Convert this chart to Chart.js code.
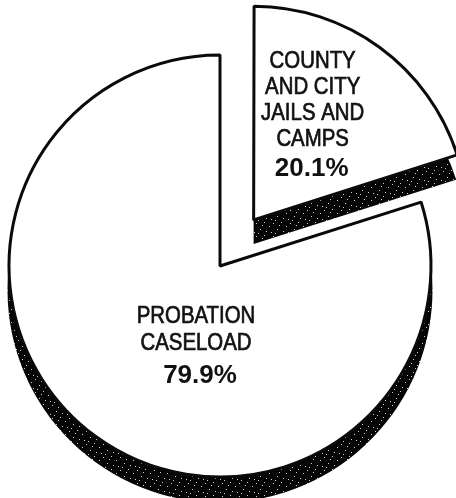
<!DOCTYPE html>
<html><head><meta charset="utf-8">
<script src="https://cdn.jsdelivr.net/npm/chart.js@4/dist/chart.umd.min.js"></script>
<style>html,body{margin:0;padding:0;background:#fff}#wrap{width:456px;height:498px;position:relative}</style>
</head><body><div id="wrap"><canvas id="c"></canvas></div>
<script>
// ---- data ----
const categories = ['COUNTY AND CITY JAILS AND CAMPS', 'PROBATION CASELOAD'];
const labelLines = [['COUNTY', 'AND CITY', 'JAILS AND', 'CAMPS'], ['PROBATION', 'CASELOAD']];
const shares = [20.1, 79.9];
const percentLabels = ['20.1%', '79.9%'];
const explodedSlice = [true, false];

// ---- styling helpers ----
function makeShadowPattern(ctx) {
  const p = document.createElement('canvas');
  p.width = 17; p.height = 13;
  const g = p.getContext('2d');
  g.fillStyle = '#050505'; g.fillRect(0, 0, 17, 13);
  g.fillStyle = '#d0d0d0';
  [[1,2],[9,1],[14,5],[5,8],[11,10],[3,12],[16,11],[7,4]].forEach(([a,b]) => g.fillRect(a, b, 1, 1));
  return ctx.createPattern(p, 'repeat');
}

const SHADOW_DY = 24;
const EXPLODE_PX = 57;
const labelLayout = [
  {dx: 59, lines: [-152, -126, -100, -74], pdx: 58, pct: -44},
  {dx: -24, lines: [57, 84], pdx: -20, pct: 117}
];

function arcCenter(arc) {
  const p = arc.getProps(['x', 'y', 'startAngle', 'endAngle', 'outerRadius'], true);
  const off = (arc.options.offset || 0) / 4;
  const half = (p.startAngle + p.endAngle) / 2;
  return {cx: p.x + Math.cos(half) * off, cy: p.y + Math.sin(half) * off, p};
}

const shadowPlugin = {
  id: 'pieShadow',
  beforeDatasetsDraw(chart) {
    const ctx = chart.ctx;
    const meta = chart.getDatasetMeta(0);
    const pat = makeShadowPattern(ctx);
    ctx.save();
    meta.data.forEach(arc => {
      const {cx, cy, p} = arcCenter(arc);
      ctx.beginPath();
      ctx.moveTo(cx, cy + SHADOW_DY);
      ctx.arc(cx, cy + SHADOW_DY, p.outerRadius + 1.5, p.startAngle, p.endAngle);
      ctx.closePath();
      ctx.fillStyle = pat;
      ctx.fill();
    });
    ctx.restore();
  }
};

const labelPlugin = {
  id: 'sliceLabels',
  afterDatasetsDraw(chart) {
    const ctx = chart.ctx;
    const meta = chart.getDatasetMeta(0);
    ctx.save();
    ctx.fillStyle = '#111';
    ctx.strokeStyle = '#111';
    ctx.textAlign = 'center';
    ctx.textBaseline = 'alphabetic';
    meta.data.forEach((arc, i) => {
      const {cx, cy} = arcCenter(arc);
      const L = labelLayout[i];
      ctx.font = '24px "Liberation Sans", Arial, sans-serif';
      ctx.lineWidth = 0.7;
      labelLines[i].forEach((t, k) => {
        ctx.save();
        ctx.translate(cx + L.dx, cy + L.lines[k]);
        ctx.scale(0.85, 1);
        ctx.fillText(t, 0, 0);
        ctx.strokeText(t, 0, 0);
        ctx.restore();
      });
      ctx.font = 'bold 26px "Liberation Sans", Arial, sans-serif';
      ctx.fillText(percentLabels[i], cx + L.pdx, cy + L.pct);
    });
    ctx.restore();
  }
};

new Chart(document.getElementById('c'), {
  type: 'pie',
  data: {
    labels: categories,
    datasets: [{
      data: shares,
      backgroundColor: '#ffffff',
      borderColor: '#0a0a0a',
      borderWidth: 3,
      offset: explodedSlice.map(e => e ? EXPLODE_PX * 4 : 0),
      clip: false
    }]
  },
  options: {
    responsive: true,
    maintainAspectRatio: false,
    animation: false,
    radius: 211,
    rotation: 0,
    layout: {padding: {left: 0, right: 16, top: 34, bottom: 0}},
    plugins: {legend: {display: false}, tooltip: {enabled: false}, title: {display: false}}
  },
  plugins: [shadowPlugin, labelPlugin]
});
</script>
</body></html>
